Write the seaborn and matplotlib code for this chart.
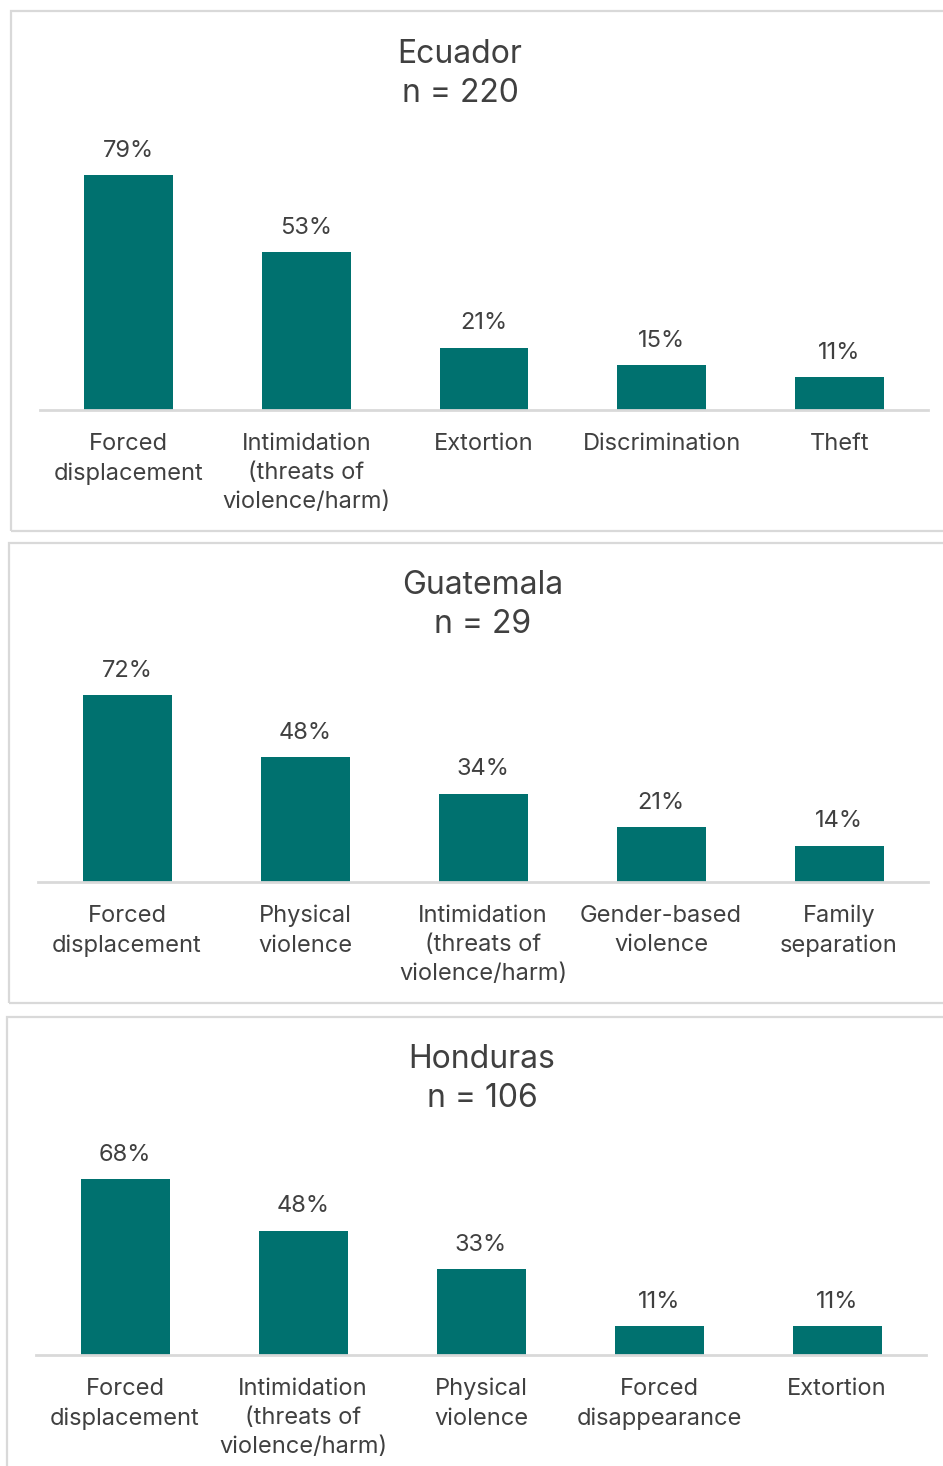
import matplotlib
matplotlib.use("Agg")
import matplotlib.pyplot as plt
from matplotlib.patches import Rectangle
import seaborn as sns
import pandas as pd

# Survey results: most common risks reported, by country
ecuador_labels = ["Forced\ndisplacement", "Intimidation\n(threats of\nviolence/harm)",
                  "Extortion", "Discrimination", "Theft"]
ecuador_values = [79, 53, 21, 15, 11]
ecuador_title = "Ecuador\nn = 220"

guatemala_labels = ["Forced\ndisplacement", "Physical\nviolence",
                    "Intimidation\n(threats of\nviolence/harm)", "Gender-based\nviolence",
                    "Family\nseparation"]
guatemala_values = [72, 48, 34, 21, 14]
guatemala_title = "Guatemala\nn = 29"

honduras_labels = ["Forced\ndisplacement", "Intimidation\n(threats of\nviolence/harm)",
                   "Physical\nviolence", "Forced\ndisappearance", "Extortion"]
honduras_values = [68, 48, 33, 11, 11]
honduras_title = "Honduras\nn = 106"

sns.set_theme(style="white")
plt.rcParams["font.family"] = ["Inter", "DejaVu Sans"]

W, H = 943, 1466
BAR = "#00716F"
TEXT = "#404040"
GRID = "#D9D9D9"

fig = plt.figure(figsize=(W / 100, H / 100), dpi=100)
fig.patch.set_facecolor("white")


def fx(px):
    return px / W


def fy(py):
    return 1 - py / H


panels = [
    # labels, values, title, box (x0, y0, x1, y1), axes (left, right, top, baseline), ymax, title x, title y
    (ecuador_labels, ecuador_values, ecuador_title, (11, 11, 960, 531), (40, 928, 120, 410), 97.5, 460, 74),
    (guatemala_labels, guatemala_values, guatemala_title, (9, 543, 960, 1003), (38, 928, 650, 882), 89.2, 483, 605),
    (honduras_labels, honduras_values, honduras_title, (7, 1017, 960, 1490), (36, 926, 1120, 1355), 90.7, 482, 1079),
]

for labels, values, title, box, axpos, ymax, tx, ty in panels:
    x0, y0, x1, y1 = box
    fig.patches.append(Rectangle((fx(x0), fy(y1)), fx(x1) - fx(x0), fy(y0) - fy(y1),
                                 transform=fig.transFigure, fill=False,
                                 edgecolor=GRID, linewidth=1.6, zorder=0))
    left, right, top, base = axpos
    ax = fig.add_axes([fx(left), fy(base), fx(right) - fx(left), fy(top) - fy(base)])
    df = pd.DataFrame({"category": labels, "value": values})
    sns.barplot(data=df, x="category", y="value", color=BAR, width=0.5,
                saturation=1, ax=ax, edgecolor="none")
    ax.set_xlim(-0.5, len(labels) - 0.5)
    ax.set_ylim(0, ymax)
    for i, v in enumerate(values):
        ax.annotate(f"{v}%", (i, v), xytext=(0, 9.5), textcoords="offset points",
                    ha="center", va="bottom", fontsize=17, color=TEXT)
    ax.set_xlabel("")
    ax.set_ylabel("")
    ax.set_yticks([])
    ax.tick_params(axis="x", length=0, pad=16.5, labelsize=17, labelcolor=TEXT)
    for lab in ax.get_xticklabels():
        lab.set_linespacing(1.42)
    for side in ["top", "right", "left"]:
        ax.spines[side].set_visible(False)
    ax.spines["bottom"].set_color(GRID)
    ax.spines["bottom"].set_linewidth(2)
    ax.patch.set_alpha(0)
    fig.text(fx(tx), fy(ty), title, ha="center", va="center", fontsize=23,
             color=TEXT, linespacing=1.33)

fig.savefig("out.png", dpi=100, facecolor="white")
